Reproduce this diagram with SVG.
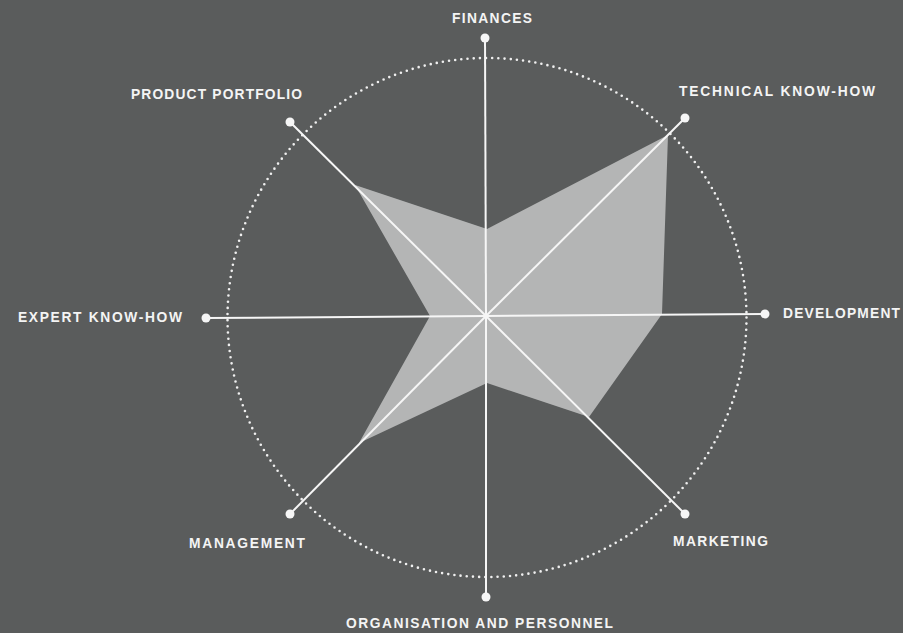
<svg xmlns="http://www.w3.org/2000/svg" width="903" height="633" viewBox="0 0 903 633">
  <style>
    .lbl { font-family: "Liberation Sans", Arial, sans-serif; font-weight: bold; font-size: 13.8px; fill: #f4f4f4; }
    .axis { stroke: #f6f6f6; stroke-width: 2; fill: none; }
    .dot { fill: #f6f6f6; }
  </style>
  <rect x="0" y="0" width="903" height="633" fill="#5a5c5c"/>
  <g id="ring">
    <circle cx="487" cy="317.5" r="259.5" fill="none" stroke="#f0f0f0" stroke-width="2.6" stroke-linecap="round" stroke-dasharray="0 6.2"/>
  </g>
  <g id="profile">
    <polygon points="487,229 668,135 662,314 589,417 487,383 359,443 430,316 355,185" fill="#b4b5b5"/>
  </g>
  <g id="connectors">
    <line class="axis" x1="486" y1="316" x2="485" y2="38"/>
    <line class="axis" x1="486" y1="316" x2="685" y2="118"/>
    <line class="axis" x1="486" y1="316" x2="765" y2="314"/>
    <line class="axis" x1="486" y1="316" x2="685" y2="514"/>
    <line class="axis" x1="486" y1="316" x2="486" y2="597"/>
    <line class="axis" x1="486" y1="316" x2="290" y2="514"/>
    <line class="axis" x1="486" y1="316" x2="206" y2="318"/>
    <line class="axis" x1="486" y1="316" x2="290" y2="122"/>
  </g>
  <g id="finances">
    <circle class="dot" cx="485" cy="38" r="4.5"/>
    <text class="lbl" x="452" y="23" textLength="80" lengthAdjust="spacing">FINANCES</text>
  </g>
  <g id="technical-know-how">
    <circle class="dot" cx="685" cy="118" r="4.5"/>
    <text class="lbl" x="679" y="96" textLength="196" lengthAdjust="spacing">TECHNICAL KNOW-HOW</text>
  </g>
  <g id="development">
    <circle class="dot" cx="765" cy="314" r="4.5"/>
    <text class="lbl" x="783" y="318" textLength="117" lengthAdjust="spacing">DEVELOPMENT</text>
  </g>
  <g id="marketing">
    <circle class="dot" cx="685" cy="514" r="4.5"/>
    <text class="lbl" x="673" y="546" textLength="95" lengthAdjust="spacing">MARKETING</text>
  </g>
  <g id="organisation-and-personnel">
    <circle class="dot" cx="486" cy="597" r="4.5"/>
    <text class="lbl" x="346" y="628" textLength="267" lengthAdjust="spacing">ORGANISATION AND PERSONNEL</text>
  </g>
  <g id="management">
    <circle class="dot" cx="290" cy="514" r="4.5"/>
    <text class="lbl" x="189" y="548" textLength="116" lengthAdjust="spacing">MANAGEMENT</text>
  </g>
  <g id="expert-know-how">
    <circle class="dot" cx="206" cy="318" r="4.5"/>
    <text class="lbl" x="18" y="322" textLength="164" lengthAdjust="spacing">EXPERT KNOW-HOW</text>
  </g>
  <g id="product-portfolio">
    <circle class="dot" cx="290" cy="122" r="4.5"/>
    <text class="lbl" x="131" y="99" textLength="171" lengthAdjust="spacing">PRODUCT PORTFOLIO</text>
  </g>
</svg>
